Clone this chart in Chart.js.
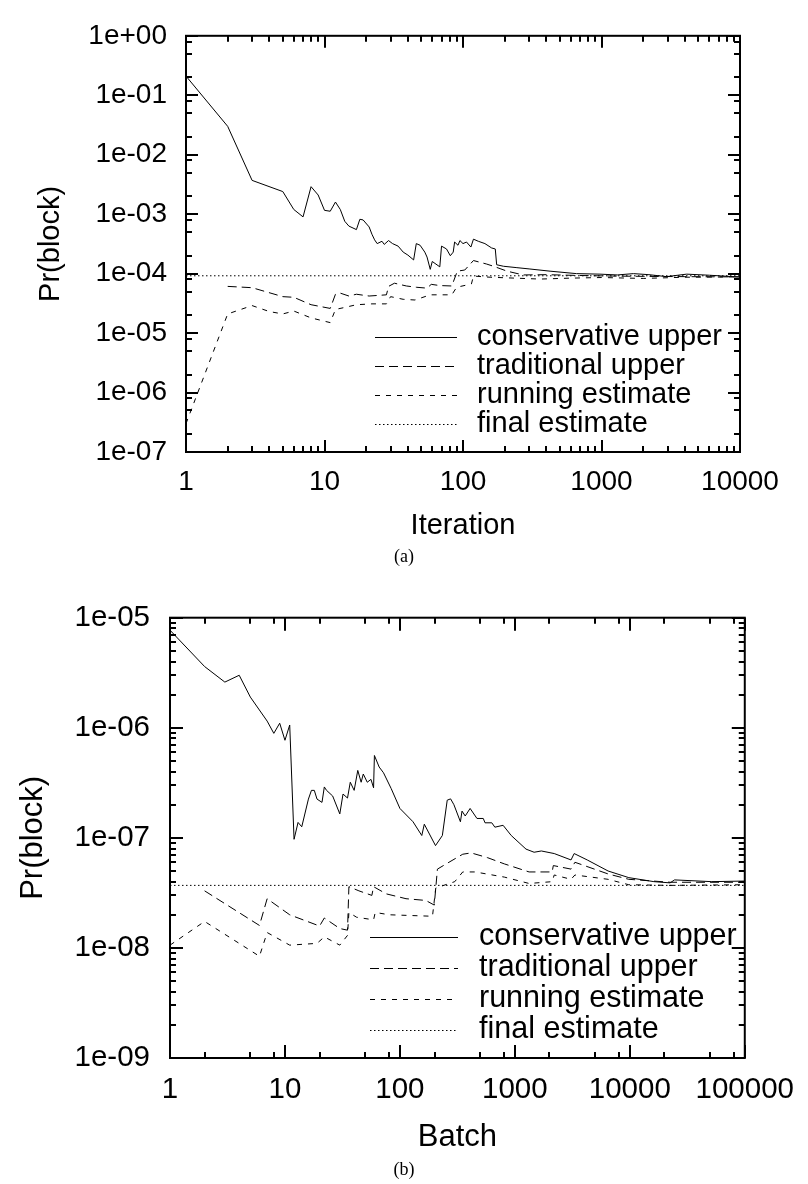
<!DOCTYPE html>
<html>
<head>
<meta charset="utf-8">
<script src="https://cdn.jsdelivr.net/npm/chart.js@4.4.1/dist/chart.umd.min.js"></script>
<style>
html, body { margin: 0; padding: 0; background: #fff; }
#wrap { position: relative; width: 808px; height: 1184px; }
#chart_a { position: absolute; left: 0; top: 0; }
#chart_b { position: absolute; left: 0; top: 580px; }
.cap { position: absolute; left: 0; width: 808px; text-align: center; font-family: "Liberation Serif", serif; font-size: 18px; line-height: 21px; }
</style>
</head>
<body>
<div id="wrap">
  <canvas id="chart_a" width="808" height="580"></canvas>
  <canvas id="chart_b" width="808" height="604"></canvas>
  <div class="cap" style="top:546px">(a)</div>
  <div class="cap" style="top:1159px">(b)</div>
</div>
<script>
// ---- (a) Iteration ----
const consIterA = [1, 2, 3, 5, 6, 7, 8, 9, 10, 11, 12, 13, 14, 15, 17, 18, 19, 21, 22, 23, 24, 26, 27, 29, 31, 34, 37, 40, 44, 46, 49, 53, 55, 58, 60, 68, 70, 76, 81, 85, 87, 92, 95, 100, 106, 114, 119, 129, 144, 161, 171, 175, 196, 245, 300, 425, 660, 975, 1300, 1700, 2200, 2950, 4120, 6000, 8900, 10000];
const consUpperA = [0.21, 0.030, 0.0037, 0.0024, 0.0012, 0.0009, 0.0029, 0.0021, 0.00116, 0.00112, 0.0016, 0.0012, 0.00076, 0.00063, 0.00055, 0.00082, 0.0008, 0.00061, 0.00046, 0.00037, 0.00032, 0.00035, 0.00031, 0.00036, 0.00032, 0.00029, 0.00023, 0.000205, 0.00017, 0.00032, 0.0003, 0.00023, 0.00019, 0.000118, 0.00016, 0.00013, 0.00029, 0.00026, 0.0002, 0.00023, 0.00034, 0.0003, 0.00036, 0.00032, 0.00034, 0.00028, 0.00038, 0.00035, 0.00032, 0.00027, 0.00026, 0.000141, 0.000133, 0.000126, 0.00012, 0.00011, 0.0001, 0.000098, 0.000095, 0.0001, 0.000096, 0.000089, 0.000098, 0.000094, 0.000089, 0.000088];

const tradIterA = [2, 3, 5, 6, 8, 11, 12, 13, 15, 17, 21, 28, 29, 32, 39, 46, 55, 59, 68, 83, 91, 103, 119, 148, 166, 208, 272, 400, 700, 1200, 2000, 4000, 10000];
const tradUpperA = [6.1e-5, 5.8e-5, 4.1e-5, 4.0e-5, 3.0e-5, 2.6e-5, 4.5e-5, 4.7e-5, 4.2e-5, 4.5e-5, 4.2e-5, 4.4e-5, 6.1e-5, 6.9e-5, 6.2e-5, 5.9e-5, 5.7e-5, 6.6e-5, 6.3e-5, 6.2e-5, 1.1e-4, 1.15e-4, 1.66e-4, 1.45e-4, 1.33e-4, 1.1e-4, 9.5e-5, 9.6e-5, 9.3e-5, 9.1e-5, 9.0e-5, 8.9e-5, 8.8e-5];

const runIterA = [1, 2, 3, 4, 5, 6, 8, 11, 12, 14, 17, 22, 28, 30, 37, 45, 58, 83, 90, 115, 119, 157, 360, 600, 1000, 2000, 4000, 10000];
const runEstA = [3e-7, 2.1e-5, 2.9e-5, 2.3e-5, 2.1e-5, 2.35e-5, 1.8e-5, 1.5e-5, 2.5e-5, 2.7e-5, 3.0e-5, 3.1e-5, 3.1e-5, 4.1e-5, 3.7e-5, 3.6e-5, 4.4e-5, 4.4e-5, 5.9e-5, 6.7e-5, 9.1e-5, 8.7e-5, 8.1e-5, 8.4e-5, 8.6e-5, 8.3e-5, 8.7e-5, 8.8e-5];

const finalIterA = [1, 10000];
const finalEstA = [9.2e-5, 9.2e-5];

const xTicksA = [1, 10, 100, 1000, 10000];
const xTickLabelsA = ['1', '10', '100', '1000', '10000'];
const yTicksA = [1, 1e-1, 1e-2, 1e-3, 1e-4, 1e-5, 1e-6, 1e-7];
const yTickLabelsA = ['1e+00', '1e-01', '1e-02', '1e-03', '1e-04', '1e-05', '1e-06', '1e-07'];

// ---- (b) Batch ----
const consBatchB = [1, 2, 3, 4, 5, 7, 8, 9, 10, 11, 12, 13, 14, 16, 17, 18, 19, 21, 22, 23, 26, 30, 32, 35, 37, 40, 43, 46, 48, 52, 56, 59, 60, 66, 72, 84, 100, 130, 155, 163, 204, 234, 258, 276, 295, 336, 347, 370, 408, 468, 531, 550, 630, 670, 790, 930, 1250, 1470, 1700, 2200, 3080, 3280, 4260, 6470, 9800, 16200, 22400, 24500, 51500, 100000];
const consUpperB = [7.7e-6, 3.6e-6, 2.6e-6, 3.0e-6, 1.9e-6, 1.15e-6, 8.9e-7, 1.1e-6, 7.7e-7, 1.06e-6, 9.7e-8, 1.38e-7, 1.26e-7, 2.25e-7, 2.7e-7, 2.7e-7, 2.25e-7, 2.1e-7, 2.9e-7, 2.7e-7, 2.4e-7, 1.65e-7, 2.5e-7, 2.3e-7, 3.2e-7, 2.7e-7, 4.1e-7, 3.2e-7, 3.8e-7, 3.2e-7, 3.4e-7, 2.85e-7, 5.6e-7, 4.4e-7, 3.9e-7, 2.8e-7, 1.85e-7, 1.4e-7, 1.05e-7, 1.33e-7, 8.5e-8, 1.05e-7, 2.2e-7, 2.26e-7, 2.0e-7, 1.4e-7, 1.75e-7, 1.58e-7, 1.85e-7, 1.5e-7, 1.5e-7, 1.37e-7, 1.37e-7, 1.25e-7, 1.3e-7, 1.05e-7, 7.9e-8, 7.4e-8, 7.6e-8, 7.2e-8, 6.3e-8, 7.2e-8, 6.3e-8, 5.0e-8, 4.35e-8, 4.0e-8, 3.9e-8, 4.15e-8, 4.0e-8, 4.05e-8];

const tradBatchB = [2, 6, 7, 11, 20, 22, 30, 35, 36, 44, 57, 59, 76, 113, 168, 199, 212, 267, 352, 417, 580, 810, 1330, 2110, 2160, 3080, 3330, 6470, 9800, 22400, 100000];
const tradUpperB = [3.3e-8, 1.6e-8, 2.8e-8, 2.0e-8, 1.58e-8, 1.87e-8, 1.5e-8, 1.45e-8, 3.6e-8, 3.3e-8, 3.0e-8, 3.6e-8, 3.1e-8, 2.8e-8, 2.7e-8, 2.45e-8, 5.2e-8, 6.0e-8, 7.1e-8, 7.3e-8, 6.6e-8, 5.8e-8, 4.9e-8, 4.9e-8, 5.6e-8, 5.2e-8, 6.0e-8, 4.7e-8, 4.2e-8, 3.95e-8, 3.95e-8];

const runBatchB = [1, 2, 6, 7, 11, 19, 22, 30, 35, 36, 42, 59, 61, 81, 192, 205, 300, 352, 452, 810, 1330, 2110, 2200, 3080, 3330, 6470, 9800, 22400, 100000];
const runEstB = [1.06e-8, 1.74e-8, 8.4e-9, 1.38e-8, 1.06e-8, 1.1e-8, 1.26e-8, 1.06e-8, 1.3e-8, 2.1e-8, 1.9e-8, 1.8e-8, 2.1e-8, 2.0e-8, 1.94e-8, 3.5e-8, 4.0e-8, 4.9e-8, 4.9e-8, 4.4e-8, 3.85e-8, 4.0e-8, 4.6e-8, 4.2e-8, 4.6e-8, 4.2e-8, 3.75e-8, 3.7e-8, 3.75e-8];

const finalBatchB = [1, 100000];
const finalEstB = [3.7e-8, 3.7e-8];

const xTicksB = [1, 10, 100, 1000, 10000, 100000];
const xTickLabelsB = ['1', '10', '100', '1000', '10000', '100000'];
const yTicksB = [1e-5, 1e-6, 1e-7, 1e-8, 1e-9];
const yTickLabelsB = ['1e-05', '1e-06', '1e-07', '1e-08', '1e-09'];

const seriesNames = ['conservative upper', 'traditional upper', 'running estimate', 'final estimate'];

Chart.defaults.color = '#000';
Chart.defaults.font.family = '"Liberation Sans", Arial, Helvetica, sans-serif';

function pts(xs, ys) {
    return xs.map((x, i) => ({x: x, y: ys[i]}));
}

function labelFor(ticks, labels) {
    return function(v) {
        for (let i = 0; i < ticks.length; i++) {
            if (Math.abs(Math.log10(v) - Math.log10(ticks[i])) < 1e-6) return labels[i];
        }
        return '';
    };
}

function logMarks(min, max, minors) {
    let out = [];
    for (let e = Math.floor(Math.log10(min)); e <= Math.ceil(Math.log10(max)); e++) {
        [1].concat(minors).forEach(m => {
            let v = m * Math.pow(10, e);
            if (v >= min * 0.999 && v <= max * 1.001) out.push({v: v, major: m === 1});
        });
    }
    return out;
}

// gnuplot-like frame with inward ticks on all four sides
const frameTicks = {
    id: 'frameTicks',
    afterDraw(chart, args, opts) {
        const ctx = chart.ctx;
        const a = chart.chartArea;
        const xs = chart.scales.x, ys = chart.scales.y;
        ctx.save();
        ctx.strokeStyle = '#000';
        ctx.lineWidth = 2;
        ctx.setLineDash([]);
        ctx.beginPath();
        logMarks(xs.min, xs.max, opts.xMinors).forEach(t => {
            const p = Math.round(xs.getPixelForValue(t.v));
            const len = t.major ? opts.major : opts.minor;
            ctx.moveTo(p, a.bottom); ctx.lineTo(p, a.bottom - len);
            ctx.moveTo(p, a.top); ctx.lineTo(p, a.top + len);
        });
        logMarks(ys.min, ys.max, opts.yMinors).forEach(t => {
            const p = Math.round(ys.getPixelForValue(t.v));
            const len = t.major ? opts.major : opts.minor;
            ctx.moveTo(a.left, p); ctx.lineTo(a.left + len, p);
            ctx.moveTo(a.right, p); ctx.lineTo(a.right - len, p);
        });
        ctx.stroke();
        ctx.strokeRect(a.left, a.top, a.right - a.left, a.bottom - a.top);
        ctx.restore();
    }
};

// key drawn inside the plot, bottom right
const insideKey = {
    id: 'insideKey',
    afterDraw(chart, args, opts) {
        const ctx = chart.ctx;
        ctx.save();
        ctx.font = opts.fontSize + 'px ' + Chart.defaults.font.family;
        ctx.textBaseline = 'middle';
        ctx.fillStyle = '#000';
        chart.data.datasets.forEach((ds, i) => {
            const y = opts.y + i * opts.rowH;
            ctx.strokeStyle = '#000';
            ctx.lineWidth = 1;
            ctx.setLineDash(ds.borderDash || []);
            ctx.beginPath();
            ctx.moveTo(opts.x, y + 0.5);
            ctx.lineTo(opts.x + opts.len, y + 0.5);
            ctx.stroke();
            ctx.fillText(ds.label, opts.textX, y);
        });
        ctx.restore();
    }
};

function dataSets(c, t, r, f) {
    const common = {borderColor: '#000', borderWidth: 1, pointRadius: 0, tension: 0, fill: false};
    return [
        Object.assign({label: seriesNames[0], data: c, borderDash: []}, common),
        Object.assign({label: seriesNames[1], data: t, borderDash: [9, 5]}, common),
        Object.assign({label: seriesNames[2], data: r, borderDash: [5, 6]}, common),
        Object.assign({label: seriesNames[3], data: f, borderDash: [1.5, 2.5]}, common)
    ];
}

// (a)
new Chart(document.getElementById('chart_a').getContext('2d'), {
    type: 'line',
    data: {
        datasets: dataSets(pts(consIterA, consUpperA), pts(tradIterA, tradUpperA), pts(runIterA, runEstA), pts(finalIterA, finalEstA))
    },
    options: {
        responsive: false,
        animation: false,
        layout: {padding: {left: 0, top: 18, right: 68, bottom: 0}},
        plugins: {
            legend: {display: false},
            tooltip: {enabled: false},
            frameTicks: {xMinors: [2, 3, 4, 5, 6, 7, 8, 9], yMinors: [2, 5, 8], major: 12, minor: 6},
            insideKey: {x: 375, y: 337, rowH: 29, len: 82, textX: 477, fontSize: 29}
        },
        scales: {
            x: {
                type: 'logarithmic', min: 1, max: 10000,
                grid: {display: false, drawTicks: false},
                border: {display: false},
                afterBuildTicks: s => { s.ticks = xTicksA.map(v => ({value: v})); },
                afterFit: s => { s.height = 128; },
                ticks: {autoSkip: false, maxRotation: 0, padding: 13, font: {size: 28}, callback: labelFor(xTicksA, xTickLabelsA)},
                title: {display: true, text: 'Iteration', font: {size: 29}, padding: {top: 0, bottom: 37}}
            },
            y: {
                type: 'logarithmic', min: 1e-7, max: 1,
                grid: {display: false, drawTicks: false},
                border: {display: false},
                afterBuildTicks: s => { s.ticks = yTicksA.map(v => ({value: v})); },
                afterFit: s => { s.width = 186; },
                ticks: {autoSkip: false, padding: 19, font: {size: 28}, callback: labelFor(yTicksA, yTickLabelsA)},
                title: {display: true, text: 'Pr(block)', font: {size: 29}, padding: {top: 34, bottom: 0}}
            }
        }
    },
    plugins: [frameTicks, insideKey]
});

// (b)
new Chart(document.getElementById('chart_b').getContext('2d'), {
    type: 'line',
    data: {
        datasets: dataSets(pts(consBatchB, consUpperB), pts(tradBatchB, tradUpperB), pts(runBatchB, runEstB), pts(finalBatchB, finalEstB))
    },
    options: {
        responsive: false,
        animation: false,
        layout: {padding: {left: 0, top: 17, right: 54, bottom: 0}},
        plugins: {
            legend: {display: false},
            tooltip: {enabled: false},
            frameTicks: {xMinors: [2, 5, 8], yMinors: [2, 3, 4, 5, 6, 7, 8, 9], major: 13, minor: 6},
            insideKey: {x: 370, y: 357, rowH: 31, len: 88, textX: 479, fontSize: 30.5}
        },
        scales: {
            x: {
                type: 'logarithmic', min: 1, max: 100000,
                grid: {display: false, drawTicks: false},
                border: {display: false},
                afterBuildTicks: s => { s.ticks = xTicksB.map(v => ({value: v})); },
                afterFit: s => { s.height = 126; },
                ticks: {autoSkip: false, maxRotation: 0, padding: 14, font: {size: 29.5}, callback: labelFor(xTicksB, xTickLabelsB)},
                title: {display: true, text: 'Batch', font: {size: 31}, padding: {top: 0, bottom: 28}}
            },
            y: {
                type: 'logarithmic', min: 1e-9, max: 1e-5,
                grid: {display: false, drawTicks: false},
                border: {display: false},
                afterBuildTicks: s => { s.ticks = yTicksB.map(v => ({value: v})); },
                afterFit: s => { s.width = 170; },
                ticks: {autoSkip: false, padding: 20, font: {size: 29.5}, callback: labelFor(yTicksB, yTickLabelsB)},
                title: {display: true, text: 'Pr(block)', font: {size: 31}, padding: {top: 15, bottom: 0}}
            }
        }
    },
    plugins: [frameTicks, insideKey]
});
</script>
</body>
</html>
